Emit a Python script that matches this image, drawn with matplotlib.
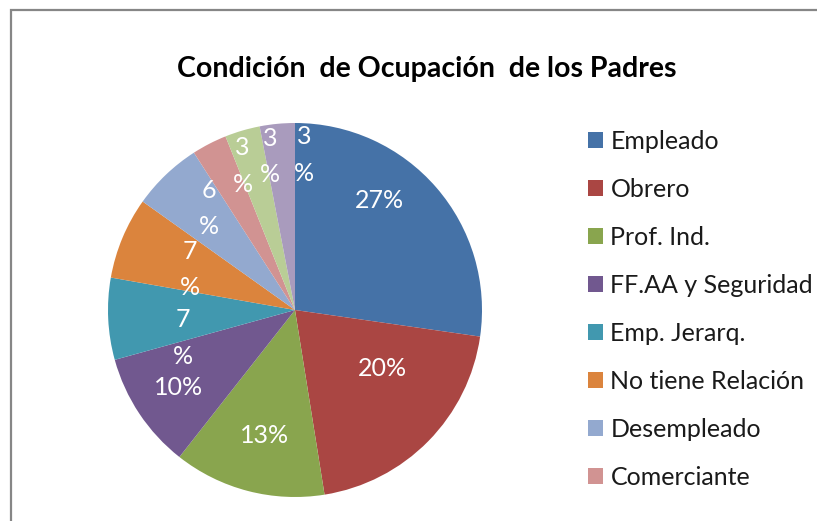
import matplotlib
matplotlib.use("Agg")
import matplotlib.pyplot as plt
from matplotlib.patches import Rectangle
import numpy as np

# ---- data ----
categories = ["Empleado", "Obrero", "Prof. Ind.", "FF.AA y Seguridad", "Emp. Jerarq.",
              "No tiene Relación", "Desempleado", "Comerciante", "Jubilado", "Otros"]
values = [27, 20, 13, 10, 7, 7, 6, 3, 3, 3]
title = "Condición  de Ocupación  de los Padres"
legend_visible = 8  # legend is cropped after the 8th entry

# ---- style ----
colors = ["#4572A7", "#AA4643", "#89A54E", "#71588F", "#4198AF",
          "#DB843D", "#93A9CF", "#D19392", "#B9CD96", "#A99BBD"]
label_shift = [11.5, 10.8, 1.1, 0.1, 11.3, 1.7, -3.5, -7.3, -7.2, -8.8]   # degrees
label_r = [0.74, 0.56, 0.69, 0.75, 0.62, 0.60, 0.71, 0.82, 0.83, 0.83]

plt.rcParams['font.family'] = ['Lato', 'DejaVu Sans']

W, H = 817, 521
fig = plt.figure(figsize=(W / 100, H / 100), dpi=100)
cx, cy, R = 295, 310, 187
ax = fig.add_axes([(cx - R) / W, (H - cy - R) / H, 2 * R / W, 2 * R / H])

total = sum(values)


def fmt(p):
    v = p * total / 100
    s = f"{v:.0f}"
    return s + "%" if v >= 9 else s + "\n%"


wedges, texts, autotexts = ax.pie(
    values, colors=colors, startangle=90, counterclock=False,
    autopct=fmt, pctdistance=0.7,
    textprops=dict(color="white", fontsize=18),
    wedgeprops=dict(linewidth=0), radius=1)
ax.set_xlim(-1, 1)
ax.set_ylim(-1, 1)
ax.set_aspect("equal")

for w, t, sh, r in zip(wedges, autotexts, label_shift, label_r):
    mid = np.deg2rad((w.theta1 + w.theta2) / 2 + sh)
    t.set_position((r * np.cos(mid), r * np.sin(mid)))
    t.set_linespacing(1.7)
    t.set_ha("center")
    t.set_va("center")

fig.text(426.5 / W, 1 - 76.7 / H, title, ha="center", va="baseline",
         fontsize=20.5, fontweight="bold", color="black")

leg = fig.legend(wedges[:legend_visible], categories[:legend_visible],
                 loc="upper left", bbox_to_anchor=(588 / W, 1 - 130 / H),
                 frameon=False, fontsize=18, borderpad=0, borderaxespad=0,
                 handlelength=0.6, handleheight=0.6, handletextpad=0.3,
                 labelspacing=1.0)
for txt in leg.get_texts():
    txt.set_color("#1a1a1a")

fig.add_artist(Rectangle((11 / W, -0.2), 2.0, (1 - 10 / H) + 0.2,
                         transform=fig.transFigure, fill=False,
                         edgecolor="#868686", linewidth=1.6))

fig.savefig("out.png", dpi=100)
